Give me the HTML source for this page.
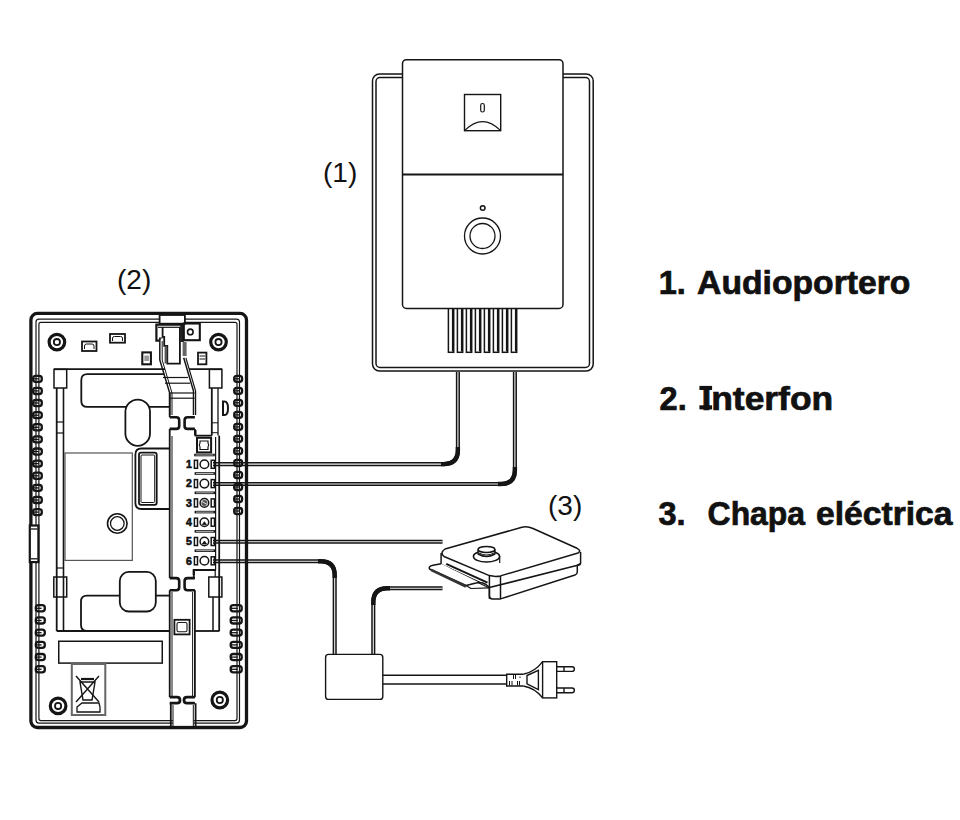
<!DOCTYPE html>
<html><head><meta charset="utf-8">
<style>
html,body{margin:0;padding:0;background:#fff;width:960px;height:820px;overflow:hidden}
svg{position:absolute;left:0;top:0}
.t{font-family:"Liberation Sans",sans-serif;font-weight:bold;fill:#111;stroke:#111;stroke-width:0.7;white-space:pre}
.p{font-family:"Liberation Sans",sans-serif;fill:#111}
</style></head><body>
<svg width="960" height="820" viewBox="0 0 960 820">
<g fill="none" stroke="#151515" stroke-width="1.5">
<rect x="372.5" y="74" width="220.7" height="297" rx="7"/>
<rect x="376" y="77.5" width="213.5" height="290" rx="4"/>
<rect x="448.4" y="306" width="5.3" height="46.3" fill="#fff"/>
<line x1="452.7" y1="309" x2="452.7" y2="351.5" stroke-width="1.6"/>
<rect x="457.4" y="306" width="5.3" height="46.3" fill="#fff"/>
<line x1="461.7" y1="309" x2="461.7" y2="351.5" stroke-width="1.6"/>
<rect x="466.4" y="306" width="5.3" height="46.3" fill="#fff"/>
<line x1="470.7" y1="309" x2="470.7" y2="351.5" stroke-width="1.6"/>
<rect x="475.4" y="306" width="5.3" height="46.3" fill="#fff"/>
<line x1="479.7" y1="309" x2="479.7" y2="351.5" stroke-width="1.6"/>
<rect x="484.4" y="306" width="5.3" height="46.3" fill="#fff"/>
<line x1="488.7" y1="309" x2="488.7" y2="351.5" stroke-width="1.6"/>
<rect x="493.4" y="306" width="5.3" height="46.3" fill="#fff"/>
<line x1="497.7" y1="309" x2="497.7" y2="351.5" stroke-width="1.6"/>
<rect x="502.4" y="306" width="5.3" height="46.3" fill="#fff"/>
<line x1="506.7" y1="309" x2="506.7" y2="351.5" stroke-width="1.6"/>
<rect x="511.4" y="306" width="5.3" height="46.3" fill="#fff"/>
<line x1="515.7" y1="309" x2="515.7" y2="351.5" stroke-width="1.6"/>
<rect x="402.5" y="59.7" width="160.5" height="248.8" rx="4" fill="#fff"/>
<line x1="402.5" y1="174.5" x2="563" y2="174.5" stroke-width="2.2"/>
<rect x="464.5" y="94.5" width="36.2" height="36.2" stroke-width="1.4"/>
<path d="M464.5 130.7 Q482.6 112.5 500.7 130.7" stroke-width="1.2"/>
<rect x="480.7" y="103.5" width="3.6" height="8.5" rx="1.8" stroke-width="1.2"/>
<circle cx="482.7" cy="208" r="2.3"/>
<circle cx="482.5" cy="236" r="18" stroke-width="1.3"/>
<circle cx="482.5" cy="236" r="12.5" stroke-width="1.3"/>
</g>
<path d="M213 464.1 H443.9 Q457.9 464.1 457.9 450.1 V372" fill="none" stroke="#151515" stroke-width="4.1" stroke-linecap="butt"/>
<path d="M213 464.1 H443.9 Q457.9 464.1 457.9 450.1 V372" fill="none" stroke="#f0f0f0" stroke-width="1.1"/>
<path d="M441 464.1 H443.9 Q457.9 464.1 457.9 450.1 V447" fill="none" stroke="#151515" stroke-width="4.4" stroke-linecap="butt"/>
<path d="M213 484 H500.9 Q514.9 484 514.9 470 V372" fill="none" stroke="#151515" stroke-width="4.1" stroke-linecap="butt"/>
<path d="M213 484 H500.9 Q514.9 484 514.9 470 V372" fill="none" stroke="#f0f0f0" stroke-width="1.1"/>
<path d="M498 484 H500.9 Q514.9 484 514.9 470 V467" fill="none" stroke="#151515" stroke-width="4.4" stroke-linecap="butt"/>
<path d="M213 541.7 H442.5" fill="none" stroke="#151515" stroke-width="4.1" stroke-linecap="butt"/>
<path d="M213 541.7 H442.5" fill="none" stroke="#f0f0f0" stroke-width="1.1"/>
<path d="M213 561.3 H320.7 Q334.7 561.3 334.7 575.3 V655" fill="none" stroke="#151515" stroke-width="4.1" stroke-linecap="butt"/>
<path d="M213 561.3 H320.7 Q334.7 561.3 334.7 575.3 V655" fill="none" stroke="#f0f0f0" stroke-width="1.1"/>
<path d="M318 561.3 H320.7 Q334.7 561.3 334.7 575.3 V578" fill="none" stroke="#151515" stroke-width="4.4" stroke-linecap="butt"/>
<path d="M442.5 588.3 H387.3 Q373.3 588.3 373.3 602.3 V655" fill="none" stroke="#151515" stroke-width="4.1" stroke-linecap="butt"/>
<path d="M442.5 588.3 H387.3 Q373.3 588.3 373.3 602.3 V655" fill="none" stroke="#f0f0f0" stroke-width="1.1"/>
<path d="M390 588.3 H387.3 Q373.3 588.3 373.3 602.3 V605" fill="none" stroke="#151515" stroke-width="4.4" stroke-linecap="butt"/>
<g fill="none" stroke="#151515" stroke-width="1.4">
<rect x="325.6" y="654.4" width="57.2" height="45" rx="3" fill="#fff"/>
<line x1="382.8" y1="675.3" x2="506.7" y2="675.3"/>
<line x1="382.8" y1="684" x2="506.7" y2="684"/>
<path d="M523.3 674.3 H506.7 V686 H523.3"/>
<path d="M513.5 675 V679 M515.5 675 V679 M509.5 681 V685.5 M512 681 V685.5 M517.5 681 V685.5 M519.5 681 V685.5 M520 676.5 V678" stroke-width="1"/>
<path d="M523.3 674.3 Q535 672 542.6 661.7 M523.3 686 Q535 688 542.6 697.9"/>
<path d="M527 675.5 L538.4 670.3 V689.6 L527 683.9 Z"/>
<rect x="542.6" y="661.7" width="14.1" height="36.2"/>
<path d="M556.7 666.7 H572 Q574.4 666.7 574.4 669 Q574.4 671.4 572 671.4 H556.7"/>
<path d="M556.7 688 H572 Q574.4 688 574.4 690.3 Q574.4 692.7 572 692.7 H556.7"/>
<line x1="564" y1="666.7" x2="564" y2="671.4"/><line x1="564" y1="688" x2="564" y2="692.7"/>
</g>
<g fill="none" stroke="#151515" stroke-width="1.3">
<rect x="30.9" y="313.4" width="215.6" height="414.1" rx="6.5" stroke-width="3.3"/>
<rect x="36" y="319.1" width="203.5" height="404" rx="3" stroke-width="1.2"/>
<rect x="38.9" y="322.3" width="198.1" height="398.3" rx="2" stroke-width="1.2"/>
<rect x="159.6" y="315" width="25.3" height="8.7" fill="#fff" stroke-width="1.8"/>
<path d="M159 340.6 H156.4 V324.6 H183.8" stroke-width="2.2"/>
<line x1="158" y1="327.3" x2="180" y2="327.3" stroke-width="1.2"/>
<path d="M162.6 327 V336.8 H164.2 V345.8 H167.3 V363.6 H179.9 V327" stroke-width="1.8"/>
<path d="M159.8 340 V338 H162.6" stroke-width="1.2"/>
<rect x="164.6" y="346.5" width="2.6" height="17" fill="#555" stroke="none"/>
<rect x="180.1" y="325" width="3.7" height="17" fill="#222" stroke="none"/>
<rect x="182.6" y="342" width="4" height="14" fill="#666" stroke="none"/>
<rect x="183.8" y="323.5" width="16" height="16.7" stroke-width="2.1"/>
<circle cx="190.3" cy="331.9" r="2.8" stroke-width="1.6"/>
<circle cx="56.9" cy="342.1" r="7.8" stroke-width="3.2"/>
<circle cx="56.9" cy="342.1" r="3.1" stroke-width="1.8"/>
<circle cx="218.5" cy="342.1" r="7.8" stroke-width="3.2"/>
<circle cx="218.5" cy="342.1" r="3.1" stroke-width="1.8"/>
<circle cx="58.1" cy="705.9" r="7.8" stroke-width="3.2"/>
<circle cx="58.1" cy="705.9" r="3.1" stroke-width="1.8"/>
<circle cx="219.8" cy="700.0" r="7.8" stroke-width="3.2"/>
<circle cx="219.8" cy="700.0" r="3.1" stroke-width="1.8"/>
<rect x="82" y="341.5" width="14.5" height="9.5" stroke-width="1.8"/>
<path d="M84.5 349 V346 Q84.5 344 86.5 344 H92 Q94 344 94 346 V349" stroke-width="1"/>
<rect x="110" y="334" width="15" height="8.7" stroke-width="1.8"/>
<path d="M112.5 341 V338 Q112.5 336.5 114.5 336.5 H120.5 Q122.5 336.5 122.5 338 V341" stroke-width="1"/>
<rect x="142.3" y="352.4" width="8.6" height="11.9" stroke-width="2.1"/>
<rect x="144.3" y="355.5" width="4.6" height="5.5" fill="#999" stroke="none"/>
<rect x="198" y="352.6" width="8.4" height="11.7" stroke-width="1.8"/>
<line x1="199.5" y1="356" x2="205" y2="356" stroke-width="1"/><line x1="199.5" y1="359" x2="205" y2="359" stroke-width="1"/>
<line x1="54" y1="369.2" x2="165" y2="369.2" stroke-width="1.8"/>
<line x1="189" y1="369.2" x2="222" y2="369.2" stroke-width="1.8"/>
<line x1="56.7" y1="388" x2="56.7" y2="631" stroke-width="1.8"/>
<line x1="63.5" y1="388" x2="63.5" y2="631" stroke-width="1.6"/>
<line x1="57" y1="568" x2="63.5" y2="568" stroke-width="1.2"/>
<line x1="211.8" y1="388" x2="211.8" y2="435.6" stroke-width="1.8"/>
<line x1="218" y1="388" x2="218" y2="435.6" stroke-width="1.3"/>
<line x1="212" y1="422.8" x2="218" y2="422.8" stroke-width="1"/><line x1="212" y1="432.7" x2="218" y2="432.7" stroke-width="1"/>
<line x1="219.2" y1="435.6" x2="219.2" y2="631" stroke-width="1.8"/>
<line x1="213" y1="597" x2="213" y2="631" stroke-width="1.5"/>
<line x1="215.2" y1="570" x2="215.2" y2="577" stroke-width="1.2"/>
<line x1="56.7" y1="631" x2="170" y2="631" stroke-width="1.8"/>
<line x1="194" y1="631" x2="219.5" y2="631" stroke-width="1.8"/>
<rect x="54" y="369.4" width="12.7" height="18.6" stroke-width="1.5"/>
<rect x="209.4" y="369.4" width="12.5" height="18.6" stroke-width="1.5"/>
<rect x="53.8" y="577" width="12.9" height="20" stroke-width="1.5"/>
<rect x="208.8" y="577" width="13.1" height="20" stroke-width="1.5"/>
<line x1="56" y1="422" x2="64" y2="422" stroke-width="1.2"/><line x1="56" y1="433" x2="64" y2="433" stroke-width="1.2"/>
<path d="M169.8 406.9 H87.3 Q81.3 406.9 81.3 400.9 V380.2 Q81.3 374.2 87.3 374.2 H164" stroke-width="1.8"/>
<rect x="125.4" y="399.6" width="24.6" height="46.2" rx="12.3" fill="#fff" stroke-width="1.8"/>
<path d="M159.8 338 V360 L169.7 393 V415" stroke-width="1.5"/>
<path d="M162.2 341 V360 L172 393 V415" stroke-width="1"/>
<path d="M183.7 357.8 L193.5 391 V415" stroke-width="1.5"/>
<path d="M185.9 357.8 L195.6 391 V415" stroke-width="1.2"/>
<line x1="163" y1="377.5" x2="188" y2="377.5" stroke-width="1.2"/>
<line x1="165" y1="383.2" x2="190" y2="383.2" stroke-width="1.2"/>
<line x1="169.7" y1="393" x2="194.6" y2="393" stroke-width="1.2"/>
<line x1="169.7" y1="398.2" x2="194.6" y2="398.2" stroke-width="1.2"/>
<path d="M169.7 393 V417.2" stroke-width="1.8"/>
<path d="M169.7 417.2 H176.2 Q179.2 417.2 179.2 420.2 V425.9 Q179.2 428.9 176.2 428.9 H169.7" stroke-width="2.6"/>
<path d="M169.7 428.9 V578.1" stroke-width="1.8"/>
<path d="M169.7 578.1 H176.2 Q179.2 578.1 179.2 581.1 V587.3 Q179.2 590.3 176.2 590.3 H169.7" stroke-width="2.6"/>
<path d="M169.7 590.3 V697.2" stroke-width="1.8"/>
<path d="M169.7 697.2 H177.0 Q180.0 697.2 180.0 700.2 V700.2 Q180.0 703.2 177.0 703.2 H169.7" stroke-width="2.8"/>
<path d="M194.9 417.2 H187.6 Q184.6 417.2 184.6 420.2 V425.9 Q184.6 428.9 187.6 428.9 H194.9" stroke-width="2.6"/>
<path d="M194.9 428.9 V435.6" stroke-width="1.8"/>
<path d="M193.8 570.2 V578.1" stroke-width="1.8"/>
<path d="M194.9 578.1 H187.6 Q184.6 578.1 184.6 581.1 V587.3 Q184.6 590.3 187.6 590.3 H194.9" stroke-width="2.6"/>
<path d="M194.9 590.3 V697.2" stroke-width="1.8"/>
<path d="M194.9 697.2 H187.0 Q184.0 697.2 184.0 700.2 V700.2 Q184.0 703.2 187.0 703.2 H194.9" stroke-width="2.8"/>
<line x1="172" y1="436" x2="172" y2="578" stroke-width="1"/>
<line x1="172" y1="592" x2="172" y2="697" stroke-width="1"/>
<line x1="192.6" y1="592" x2="192.6" y2="697" stroke-width="1"/>
<rect x="172.8" y="716" width="20.8" height="9.5" fill="#fff" stroke="none"/>
<line x1="170.8" y1="703.2" x2="170.8" y2="727" stroke-width="1.8"/>
<line x1="195.6" y1="703.2" x2="195.6" y2="727" stroke-width="1.8"/>
<line x1="173" y1="705" x2="173" y2="727" stroke-width="1"/>
<line x1="193.3" y1="705" x2="193.3" y2="727" stroke-width="1"/>
<rect x="65" y="453" width="67.3" height="107.4" stroke="#555" stroke-width="1.2"/>
<circle cx="117.3" cy="523.5" r="9.8" stroke-width="1.6"/>
<circle cx="117.3" cy="523.5" r="6.8" stroke-width="1.3"/>
<path d="M169.8 448.5 H141.4 Q135.4 448.5 135.4 454.5 V503 Q135.4 509 141.4 509 H169.8" stroke-width="1.8"/>
<rect x="139" y="452.7" width="17.7" height="52.1" rx="2" stroke-width="1.8"/>
<rect x="141" y="455" width="13.7" height="47.5" rx="1" stroke-width="1"/>
<path d="M195.6 430 V435.6 H211.8" stroke-width="1.8"/>
<rect x="197" y="437.8" width="14.1" height="14.6" stroke-width="2"/>
<path d="M200 441 H208 V443 Q209.5 445 208 447 V449.5 H200 V447 Q198.5 445 200 443 Z" stroke-width="1.2"/>
<line x1="194.2" y1="455" x2="214.8" y2="455" stroke-width="2.6"/>
<line x1="195.5" y1="455" x2="213.5" y2="455" stroke="#fff" stroke-width="0.7"/>
<line x1="215.6" y1="437" x2="215.6" y2="570" stroke-width="1.2"/>
<rect x="194.4" y="460.3" width="3.1" height="8" stroke-width="1.5"/>
<rect x="211.2" y="460.3" width="3.3" height="8" stroke-width="1.5"/>
<circle cx="204.4" cy="464.3" r="4.3" stroke-width="1.5"/>
<text x="189" y="468.0" font-family="Liberation Sans" font-weight="bold" font-size="10.5" fill="#111" stroke="#111" stroke-width="0.6" text-anchor="middle">1</text>
<line x1="194.6" y1="473.5" x2="215" y2="473.5" stroke-width="2.6"/>
<line x1="196" y1="473.5" x2="213.6" y2="473.5" stroke="#fff" stroke-width="0.7"/>
<rect x="194.4" y="479.6" width="3.1" height="8" stroke-width="1.5"/>
<rect x="211.2" y="479.6" width="3.3" height="8" stroke-width="1.5"/>
<circle cx="204.4" cy="483.6" r="4.3" stroke-width="1.5"/>
<text x="189" y="487.3" font-family="Liberation Sans" font-weight="bold" font-size="10.5" fill="#111" stroke="#111" stroke-width="0.6" text-anchor="middle">2</text>
<line x1="194.6" y1="492.8" x2="215" y2="492.8" stroke-width="2.6"/>
<line x1="196" y1="492.8" x2="213.6" y2="492.8" stroke="#fff" stroke-width="0.7"/>
<rect x="194.4" y="498.9" width="3.1" height="8" stroke-width="1.5"/>
<rect x="211.2" y="498.9" width="3.3" height="8" stroke-width="1.5"/>
<circle cx="204.4" cy="502.9" r="4.3" stroke-width="1.5"/>
<text x="189" y="506.6" font-family="Liberation Sans" font-weight="bold" font-size="10.5" fill="#111" stroke="#111" stroke-width="0.6" text-anchor="middle">3</text>
<line x1="194.6" y1="512.1" x2="215" y2="512.1" stroke-width="2.6"/>
<line x1="196" y1="512.1" x2="213.6" y2="512.1" stroke="#fff" stroke-width="0.7"/>
<circle cx="204.4" cy="502.9" r="3" fill="#555" stroke="none"/>
<line x1="201.5" y1="501.4" x2="207.3" y2="504.4" stroke="#fff" stroke-width="0.8"/>
<rect x="194.4" y="518.2" width="3.1" height="8" stroke-width="1.5"/>
<rect x="211.2" y="518.2" width="3.3" height="8" stroke-width="1.5"/>
<circle cx="204.4" cy="522.2" r="4.3" stroke-width="1.5"/>
<text x="189" y="525.9" font-family="Liberation Sans" font-weight="bold" font-size="10.5" fill="#111" stroke="#111" stroke-width="0.6" text-anchor="middle">4</text>
<line x1="194.6" y1="531.4" x2="215" y2="531.4" stroke-width="2.6"/>
<line x1="196" y1="531.4" x2="213.6" y2="531.4" stroke="#fff" stroke-width="0.7"/>
<path d="M202.3 524.7 L204.4 521.7 L206.5 524.7 Z" fill="#151515" stroke-width="0.8"/>
<rect x="194.4" y="537.5" width="3.1" height="8" stroke-width="1.5"/>
<rect x="211.2" y="537.5" width="3.3" height="8" stroke-width="1.5"/>
<circle cx="204.4" cy="541.5" r="4.3" stroke-width="1.5"/>
<text x="189" y="545.2" font-family="Liberation Sans" font-weight="bold" font-size="10.5" fill="#111" stroke="#111" stroke-width="0.6" text-anchor="middle">5</text>
<line x1="194.6" y1="550.7" x2="215" y2="550.7" stroke-width="2.6"/>
<line x1="196" y1="550.7" x2="213.6" y2="550.7" stroke="#fff" stroke-width="0.7"/>
<path d="M202.3 544.0 L204.4 541.0 L206.5 544.0 Z" fill="#151515" stroke-width="0.8"/>
<rect x="194.4" y="556.8" width="3.1" height="8" stroke-width="1.5"/>
<rect x="211.2" y="556.8" width="3.3" height="8" stroke-width="1.5"/>
<circle cx="204.4" cy="560.8" r="4.3" stroke-width="1.5"/>
<text x="189" y="564.5" font-family="Liberation Sans" font-weight="bold" font-size="10.5" fill="#111" stroke="#111" stroke-width="0.6" text-anchor="middle">6</text>
<path d="M193.8 575 V570 H216" stroke-width="2.2"/>
<path d="M223 401.5 H224.5 Q228 401.5 228 408.2 Q228 415 224.5 415 H223 Z" stroke-width="2"/>
<rect x="33.1" y="375.8" width="8.7" height="6.1" rx="2.6" stroke-width="2.3"/>
<line x1="33.0" y1="378.8" x2="38.8" y2="378.8" stroke-width="1.3"/>
<rect x="234.2" y="375.8" width="7.9" height="6.1" rx="2.6" stroke-width="2.3"/>
<line x1="234.0" y1="378.8" x2="239.3" y2="378.8" stroke-width="1.3"/>
<rect x="33.1" y="387.9" width="8.7" height="6.1" rx="2.6" stroke-width="2.3"/>
<line x1="33.0" y1="390.9" x2="38.8" y2="390.9" stroke-width="1.3"/>
<rect x="234.2" y="387.8" width="7.9" height="6.1" rx="2.6" stroke-width="2.3"/>
<line x1="234.0" y1="390.8" x2="239.3" y2="390.8" stroke-width="1.3"/>
<rect x="33.1" y="400.0" width="8.7" height="6.1" rx="2.6" stroke-width="2.3"/>
<line x1="33.0" y1="403.0" x2="38.8" y2="403.0" stroke-width="1.3"/>
<rect x="234.2" y="399.8" width="7.9" height="6.1" rx="2.6" stroke-width="2.3"/>
<line x1="234.0" y1="402.8" x2="239.3" y2="402.8" stroke-width="1.3"/>
<rect x="33.1" y="412.1" width="8.7" height="6.1" rx="2.6" stroke-width="2.3"/>
<line x1="33.0" y1="415.2" x2="38.8" y2="415.2" stroke-width="1.3"/>
<rect x="234.2" y="411.8" width="7.9" height="6.1" rx="2.6" stroke-width="2.3"/>
<line x1="234.0" y1="414.9" x2="239.3" y2="414.9" stroke-width="1.3"/>
<rect x="33.1" y="424.2" width="8.7" height="6.1" rx="2.6" stroke-width="2.3"/>
<line x1="33.0" y1="427.3" x2="38.8" y2="427.3" stroke-width="1.3"/>
<rect x="234.2" y="423.8" width="7.9" height="6.1" rx="2.6" stroke-width="2.3"/>
<line x1="234.0" y1="426.9" x2="239.3" y2="426.9" stroke-width="1.3"/>
<rect x="33.1" y="436.3" width="8.7" height="6.1" rx="2.6" stroke-width="2.3"/>
<line x1="33.0" y1="439.4" x2="38.8" y2="439.4" stroke-width="1.3"/>
<rect x="234.2" y="435.8" width="7.9" height="6.1" rx="2.6" stroke-width="2.3"/>
<line x1="234.0" y1="438.9" x2="239.3" y2="438.9" stroke-width="1.3"/>
<rect x="33.1" y="448.5" width="8.7" height="6.1" rx="2.6" stroke-width="2.3"/>
<line x1="33.0" y1="451.5" x2="38.8" y2="451.5" stroke-width="1.3"/>
<rect x="234.2" y="447.9" width="7.9" height="6.1" rx="2.6" stroke-width="2.3"/>
<line x1="234.0" y1="450.9" x2="239.3" y2="450.9" stroke-width="1.3"/>
<rect x="33.1" y="460.6" width="8.7" height="6.1" rx="2.6" stroke-width="2.3"/>
<line x1="33.0" y1="463.6" x2="38.8" y2="463.6" stroke-width="1.3"/>
<rect x="234.2" y="459.9" width="7.9" height="6.1" rx="2.6" stroke-width="2.3"/>
<line x1="234.0" y1="462.9" x2="239.3" y2="462.9" stroke-width="1.3"/>
<rect x="33.1" y="472.7" width="8.7" height="6.1" rx="2.6" stroke-width="2.3"/>
<line x1="33.0" y1="475.8" x2="38.8" y2="475.8" stroke-width="1.3"/>
<rect x="234.2" y="471.9" width="7.9" height="6.1" rx="2.6" stroke-width="2.3"/>
<line x1="234.0" y1="475.0" x2="239.3" y2="475.0" stroke-width="1.3"/>
<rect x="33.1" y="484.8" width="8.7" height="6.1" rx="2.6" stroke-width="2.3"/>
<line x1="33.0" y1="487.9" x2="38.8" y2="487.9" stroke-width="1.3"/>
<rect x="234.2" y="483.9" width="7.9" height="6.1" rx="2.6" stroke-width="2.3"/>
<line x1="234.0" y1="487.0" x2="239.3" y2="487.0" stroke-width="1.3"/>
<rect x="33.1" y="496.9" width="8.7" height="6.1" rx="2.6" stroke-width="2.3"/>
<line x1="33.0" y1="500.0" x2="38.8" y2="500.0" stroke-width="1.3"/>
<rect x="234.2" y="495.9" width="7.9" height="6.1" rx="2.6" stroke-width="2.3"/>
<line x1="234.0" y1="499.0" x2="239.3" y2="499.0" stroke-width="1.3"/>
<rect x="33.1" y="509.1" width="8.7" height="6.1" rx="2.6" stroke-width="2.3"/>
<line x1="33.0" y1="512.1" x2="38.8" y2="512.1" stroke-width="1.3"/>
<rect x="234.2" y="508.0" width="7.9" height="6.1" rx="2.6" stroke-width="2.3"/>
<line x1="234.0" y1="511.0" x2="239.3" y2="511.0" stroke-width="1.3"/>
<rect x="35.8" y="605.2" width="9.0" height="6.1" rx="2.6" stroke-width="2.3"/>
<line x1="35.6" y1="608.3" x2="41.6" y2="608.3" stroke-width="1.3"/>
<rect x="230.7" y="605.2" width="11.0" height="6.1" rx="2.6" stroke-width="2.3"/>
<line x1="230.5" y1="608.3" x2="237.7" y2="608.3" stroke-width="1.3"/>
<rect x="35.8" y="617.4" width="9.0" height="6.1" rx="2.6" stroke-width="2.3"/>
<line x1="35.6" y1="620.5" x2="41.6" y2="620.5" stroke-width="1.3"/>
<rect x="230.7" y="617.4" width="11.0" height="6.1" rx="2.6" stroke-width="2.3"/>
<line x1="230.5" y1="620.5" x2="237.7" y2="620.5" stroke-width="1.3"/>
<rect x="35.8" y="629.6" width="9.0" height="6.1" rx="2.6" stroke-width="2.3"/>
<line x1="35.6" y1="632.7" x2="41.6" y2="632.7" stroke-width="1.3"/>
<rect x="230.7" y="629.6" width="11.0" height="6.1" rx="2.6" stroke-width="2.3"/>
<line x1="230.5" y1="632.7" x2="237.7" y2="632.7" stroke-width="1.3"/>
<rect x="35.8" y="641.8" width="9.0" height="6.1" rx="2.6" stroke-width="2.3"/>
<line x1="35.6" y1="644.9" x2="41.6" y2="644.9" stroke-width="1.3"/>
<rect x="230.7" y="641.8" width="11.0" height="6.1" rx="2.6" stroke-width="2.3"/>
<line x1="230.5" y1="644.9" x2="237.7" y2="644.9" stroke-width="1.3"/>
<rect x="35.8" y="654.0" width="9.0" height="6.1" rx="2.6" stroke-width="2.3"/>
<line x1="35.6" y1="657.1" x2="41.6" y2="657.1" stroke-width="1.3"/>
<rect x="230.7" y="654.0" width="11.0" height="6.1" rx="2.6" stroke-width="2.3"/>
<line x1="230.5" y1="657.1" x2="237.7" y2="657.1" stroke-width="1.3"/>
<rect x="35.8" y="666.2" width="9.0" height="6.1" rx="2.6" stroke-width="2.3"/>
<line x1="35.6" y1="669.3" x2="41.6" y2="669.3" stroke-width="1.3"/>
<rect x="230.7" y="666.2" width="11.0" height="6.1" rx="2.6" stroke-width="2.3"/>
<line x1="230.5" y1="669.3" x2="237.7" y2="669.3" stroke-width="1.3"/>
<rect x="29.8" y="525.5" width="8.6" height="36.6" fill="#fff" stroke-width="2.2"/>
<line x1="31" y1="529" x2="37.5" y2="529" stroke-width="1.3"/><line x1="31" y1="558.8" x2="37.5" y2="558.8" stroke-width="1.3"/>
<path d="M120 595.6 H87 Q81 595.6 81 601.6 V625 Q81 631 87 631" stroke-width="1.8"/>
<rect x="119.8" y="571.9" width="36" height="39.6" rx="9" fill="#fff" stroke-width="1.8"/>
<line x1="155.8" y1="595.6" x2="169.8" y2="595.6" stroke-width="1.8"/>
<rect x="174.4" y="619.8" width="15.2" height="14.6" stroke-width="1.8"/>
<rect x="177" y="622.5" width="10" height="9.2" rx="1.5" stroke-width="1.1"/>
<rect x="58.75" y="641.25" width="103.5" height="21.85" stroke-width="1.5"/>
<rect x="71.8" y="664" width="33.5" height="51" stroke="#666" stroke-width="2"/>
<path d="M76 676 L99 702 M99 676 L76 702" stroke-width="1.4"/>
<path d="M80 682 H95 L92 700 H83 Z" stroke-width="1.4"/>
<path d="M81 679 H94" stroke-width="2.2"/>
<path d="M77 707 L82 703 H99 L100 707 V712 H77 Z" stroke-width="1.3"/>
</g>
<g fill="none" stroke="#151515" stroke-width="1.5" stroke-linejoin="round">
<path d="M441.1 553 V564.5 L489.4 587.8 V596 Q489.4 598.9 492.5 598.9 H500.5 L575 575 Q577.3 574.2 577.3 572 V565.5 L580.6 563.5 V552" fill="#fff"/>
<line x1="489.4" y1="575.6" x2="489.4" y2="598.9"/><line x1="500.5" y1="575.9" x2="500.5" y2="598.9"/>
<line x1="489.4" y1="587.6" x2="580.6" y2="564.4"/>
<path d="M445 549 L521 527.5 Q527 525.8 533 528.5 L577 548.3 Q582 551 578 553 L500.5 575.9 Q495 577 489.4 575.6 L444 556.5 Q439.5 553 445 549 Z" fill="#fff"/>
<line x1="446.2" y1="563.9" x2="487.5" y2="582.6" stroke-width="2"/>
<line x1="447" y1="567" x2="486" y2="585" stroke-width="1"/>
<path d="M441.1 563.8 L433 565.2 Q428 566.3 429.5 569 L466 585.5 L476 583 Q481 581.5 486 584.5 L489.4 587.5" fill="#fff"/>
<path d="M431 569.8 L466 586.5" stroke="#333" stroke-width="2.6"/>
<path d="M466 585.5 L471 588.5 L489.4 587.8" stroke-width="1.2"/>
<ellipse cx="486.5" cy="556.4" rx="13.1" ry="5.6" fill="#fff"/>
<path d="M499.7 556 V563" stroke-width="1.2"/>
<path d="M478.1 549.4 V554 Q486.5 559 494.9 554 V549.4" fill="#fff"/>
<path d="M479 553 Q486.5 557 494 553" stroke-width="1"/>
<ellipse cx="486.5" cy="549.4" rx="8.4" ry="3" fill="#fff"/>
</g>
<text class="p" x="323" y="181.6" font-size="28">(1)</text>
<text class="p" x="117" y="288.5" font-size="28">(2)</text>
<text class="p" x="548" y="514.6" font-size="28">(3)</text>
<text class="t" x="658.7" y="294.0" font-size="32.5">1.</text>
<text class="t" x="697.1" y="294.0" font-size="32.5" textLength="213.3" lengthAdjust="spacingAndGlyphs">Audioportero</text>
<text class="t" x="659.6" y="409.5" font-size="32.5">2.</text>
<text class="t" x="701.4" y="409.5" font-size="32.5" textLength="131.8" lengthAdjust="spacingAndGlyphs">Interfon</text>
<text class="t" x="658.4" y="525.0" font-size="32.5">3.</text>
<text class="t" x="707.6" y="525.0" font-size="32.5" textLength="97.5" lengthAdjust="spacingAndGlyphs">Chapa</text>
<text class="t" x="816.0" y="525.0" font-size="32.5" textLength="136.5" lengthAdjust="spacingAndGlyphs">eléctrica</text>
<rect x="699.4" y="385.9" width="12.7" height="4.1" fill="#111"/>
<rect x="699.4" y="405.3" width="12.7" height="4.1" fill="#111"/>
</svg>
</body></html>
